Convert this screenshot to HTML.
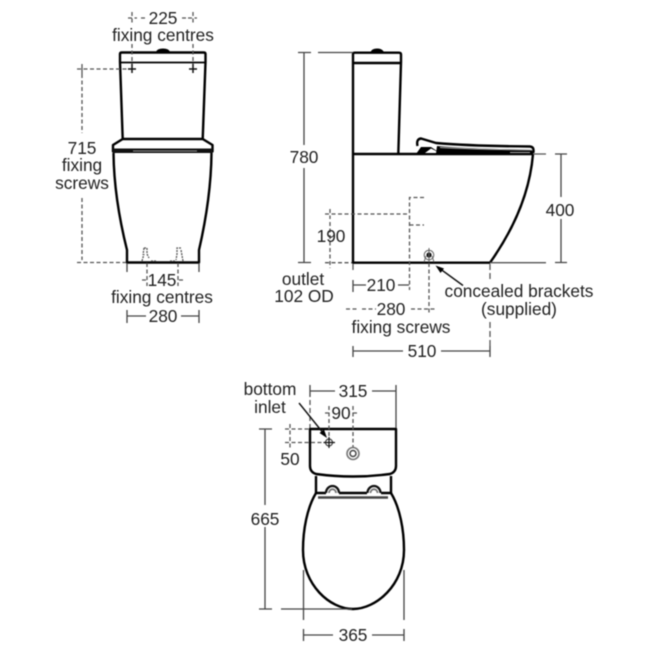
<!DOCTYPE html>
<html><head><meta charset="utf-8"><style>
html,body{margin:0;padding:0;background:#fff;width:650px;height:650px;overflow:hidden}
svg{display:block;filter:blur(0.45px)}
text{font-family:"Liberation Sans",sans-serif;font-size:17.3px;fill:#222;text-anchor:middle}
.o{fill:none;stroke:#000;stroke-width:2.4;stroke-linejoin:round}
.t{fill:none;stroke:#000;stroke-width:1.7}
.d{fill:none;stroke:#444;stroke-width:1.3}
.h{fill:none;stroke:#555;stroke-width:1.3;stroke-dasharray:4 2.5}
</style></head><body>
<svg width="650" height="650" viewBox="0 0 650 650" xmlns="http://www.w3.org/2000/svg">
<rect width="650" height="650" fill="#fff"/>

<!-- FRONT VIEW -->
<path class="o" d="M122.700 139L120 62V54Q120 52.500 122 52.500H203.500Q205.500 52.500 205.500 54V62L202.700 139"/>
<path class="t" d="M120 62.500H205.500"/>
<path d="M156 52Q157 48.500 163 48.500Q169 48.500 170 52Z" fill="#000"/>
<path class="o" d="M122.700 139H202.700"/>
<path class="o" d="M122.700 139L113 145V151.500H212.500V145L202.700 139"/>
<path d="M113 148.500H212.500V153H113Z" fill="#111"/>
<path d="M133 151H197" stroke="#999" stroke-width="1" fill="none"/>
<path class="o" d="M113.500 153Q114 198 127 250V262.500H199V250Q211 198 211.500 153"/>

<g class="h">
<path d="M132 44V64M193 44V64"/>
<path d="M77 69H128M82 74V133M82 198V260M77 262.500H126"/>
<path d="M147 263V276M178 263V276M147 276V286M178 276V286M142 280H146M179 280H184"/>
<path d="M128 18H137M141 18H146M182 18H188M188 18H197"/>
<path d="M132 12V24M193 12V24"/>
<path d="M144 248H147V254L149 258M142 261L144 254M144 248L143 255M181 248H177V254L176 260M183 261L181 250" stroke-dasharray="2 1"/>
<path d="M151 261H156M170 261H175" stroke-dasharray="2 1"/>
</g>
<path d="M132 64V73M193 64V73M128 69H136M189 69H197" stroke="#111" stroke-width="1.500" fill="none"/>
<path d="M82 64V74" stroke="#555" stroke-width="1.300" fill="none"/>
<path class="d" d="M127 263V272M199 263V272M127 310V323M199 310V323M127 316H146M181 316H199"/>
<text x="163" y="24">225</text>
<text x="163" y="41">fixing centres</text>
<text x="82" y="154">715</text>
<text x="82" y="171">fixing</text>
<text x="82" y="189">screws</text>
<text x="162" y="286">145</text>
<text x="162" y="303">fixing centres</text>
<text x="163" y="322">280</text>

<!-- SIDE VIEW -->
<path class="o" d="M353 154V54Q353 52.700 355 52.700H399Q401 52.700 401 54.500V62L398.300 154"/>
<path class="o" d="M353 63H400"/>
<path d="M370.500 52Q372 48.500 377 48.500Q382 48.500 384 52Z" fill="#000"/>
<path class="o" d="M353 154H533"/>
<path class="o" d="M353 154V262.700H490"/>
<path class="o" d="M533 154C530 190 516 226 490 262.700"/>
<path d="M416 154L421 147L431 147L437 151V154Z" fill="#000"/>
<path d="M425 153L431 148.500L440 153Z" fill="#fff"/>
<path class="o" d="M417.500 146Q416 139 421 138.500L436 143Q470 146 530 146.500Q533.500 147 533.500 150V152L513 153"/>
<path d="M437 146Q470 149 532 149.500V153.500H436Z" fill="#000"/>
<path d="M440 147.500Q480 149.500 532 150" stroke="#aaa" stroke-width="1" fill="none"/>
<path d="M510 152.500H530" stroke="#aaa" stroke-width="1" fill="none"/>
<path d="M533 154H546M490 262.700H546" stroke="#555" stroke-width="1.300" fill="none"/>
<path class="d" d="M298 52.500H311M318 52.500H353M304 52.500V145M304 168V262.500M298 262.500H311"/>
<path class="d" d="M555 154H567M561 154V197M561 219V262.500M555 262.500H567"/>
<g class="h">
<path d="M325 214H409M330 209V219M330 222V268M325 262.700H352"/>
<path d="M424 197.500H409.500V290M409.500 225H424"/>
<path d="M429 263V315M346 309H358M362 309H376M411 309H435"/>
<path d="M490 264V279M490 322V346M353 264V272" stroke-dasharray="6 3"/>
</g>
<path class="d" d="M353 280V292M353 285H366M398 285H409M353 346V357M490 346V357M353 351H403M441 351H490"/>
<circle cx="429" cy="255" r="2.600" fill="#111"/>
<circle cx="429" cy="255" r="4.800" fill="none" stroke="#666" stroke-width="1"/>
<path d="M424 262L426 256M434 262L432 256M429 248V262" stroke="#666" stroke-width="1" fill="none"/>
<path d="M463 285.500L439 268" stroke="#111" stroke-width="1.400" fill="none"/>
<path d="M435.500 265.500L444 268.500L440.500 273Z" fill="#000"/>
<text x="304" y="163">780</text>
<text x="560" y="216">400</text>
<text x="331" y="242">190</text>
<text x="303" y="285">outlet</text>
<text x="304" y="302">102 OD</text>
<text x="381" y="291">210</text>
<text x="391" y="315">280</text>
<text x="401" y="333">fixing screws</text>
<text x="422" y="357">510</text>
<text x="519" y="297">concealed brackets</text>
<text x="519" y="315">(supplied)</text>

<!-- PLAN VIEW -->
<path class="o" d="M310 429H396V466Q396 472 390 474Q353 479 316 474Q310 472 310 466Z"/>
<path class="o" d="M316 476V493M391 476V493"/>
<path class="o" d="M316 493H326M339 493H367M381 493H391"/>
<path class="o" d="M316 493C307 508 303 530 303 550C303 585 330 609 353 609C376 609 404 585 404 550C404 530 400 508 391 493"/>
<path d="M318 497.500H388" stroke="#444" stroke-width="2.500" fill="none"/>
<path d="M326 493A6.500 7 0 0 1 339 493" fill="none" stroke="#111" stroke-width="2.300"/>
<path d="M329 493A3.500 3.800 0 0 1 336 493" fill="none" stroke="#777" stroke-width="1.800"/>
<path d="M367.500 493A6.500 7 0 0 1 380.500 493" fill="none" stroke="#111" stroke-width="2.300"/>
<path d="M370.500 493A3.500 3.800 0 0 1 377.500 493" fill="none" stroke="#777" stroke-width="1.800"/>
<circle cx="353" cy="453.500" r="6" fill="none" stroke="#777" stroke-width="1.600"/>
<circle cx="353" cy="453.500" r="3" fill="none" stroke="#444" stroke-width="1.500"/>
<circle cx="329" cy="442.500" r="3.500" fill="none" stroke="#444" stroke-width="1.200"/>
<path d="M329 437V448M323.500 442.500H335" stroke="#111" stroke-width="1.200" fill="none"/>
<g class="h">
<path d="M285 429H309M285 442.500H323M290 424V448"/>
<path d="M329 406V437M353 406V447M325 413H329M353 413H358"/>
<path d="M310 400V428" stroke-dasharray="5 3"/>
</g>
<path class="d" d="M310 385V397M396 385V397M310 391H335M372 391H396M396 397V428"/>
<path class="d" d="M259 429H272M265 429V505M265 527V609M259 609H272M281 609H352"/>
<path class="d" d="M303.500 570V620M404 570V620M303.500 629V641M404 629V641M303.500 635H333M372 635H404"/>
<path d="M299 403L324 434" stroke="#111" stroke-width="1.400" fill="none"/>
<path d="M327 438L319.500 433L324 429.500Z" fill="#000"/>
<text x="270" y="395">bottom</text>
<text x="270" y="413">inlet</text>
<text x="353" y="397">315</text>
<text x="341" y="419">90</text>
<text x="290" y="465">50</text>
<text x="265" y="525">665</text>
<text x="353" y="641">365</text>
</svg>
</body></html>
